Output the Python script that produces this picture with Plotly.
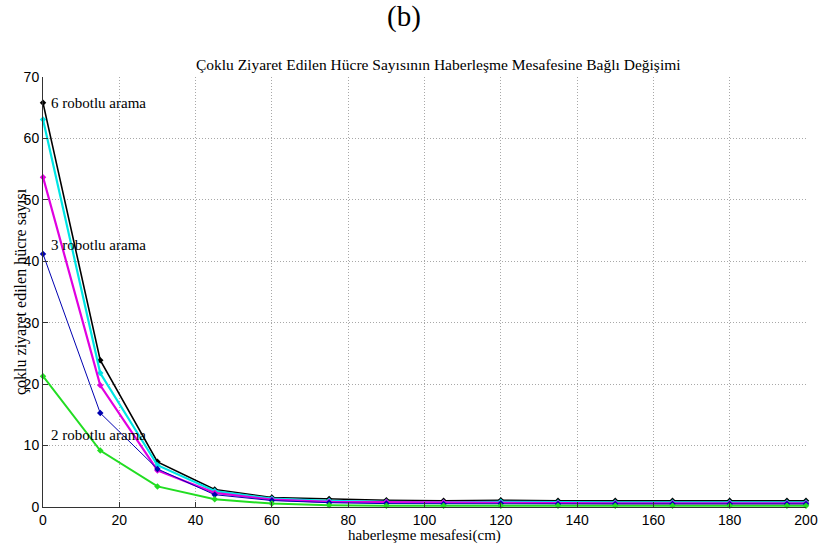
import plotly.graph_objects as go

# communication distance (cm)
distance = [0, 15, 30, 45, 60, 75, 90, 105, 120, 135, 150, 165, 180, 195, 200]

# multiply-visited cell counts per robot team size
robots_6 = [65.8, 23.9, 7.35, 2.85, 1.55, 1.3, 1.1, 1.0, 1.1, 1.0, 1.0, 1.0, 1.0, 1.0, 1.0]
robots_5 = [63.1, 21.8, 6.8, 2.6, 1.35, 1.0, 0.85, 0.75, 0.85, 0.75, 0.75, 0.75, 0.75, 0.75, 0.75]
robots_4 = [53.7, 19.8, 5.95, 2.3, 1.2, 0.85, 0.8, 0.75, 0.6, 0.6, 0.6, 0.6, 0.6, 0.6, 0.6]
robots_3 = [41.2, 15.3, 6.2, 2.0, 1.05, 0.7, 0.55, 0.5, 0.55, 0.5, 0.5, 0.5, 0.5, 0.5, 0.5]
robots_2 = [21.3, 9.2, 3.35, 1.25, 0.55, 0.3, 0.2, 0.2, 0.2, 0.2, 0.2, 0.2, 0.2, 0.2, 0.2]

series = [
    ("6 robot", robots_6, "#000000", 1.6),
    ("5 robot", robots_5, "#00e5e5", 2.2),
    ("4 robot", robots_4, "#e000e0", 2.2),
    ("3 robot", robots_3, "#0000b0", 1.0),
    ("2 robot", robots_2, "#22dd22", 2.0),
]

fig = go.Figure()
for name, vals, color, width in series:
    fig.add_trace(go.Scatter(
        x=distance, y=vals, mode="lines+markers", name=name,
        line=dict(color=color, width=width),
        marker=dict(symbol="diamond", size=5, color=color),
        cliponaxis=False,
    ))

serif = "Liberation Serif"
labels = [
    ("6 robotlu arama", robots_6[0]),
    ("3 robotlu arama", 42.7),
    ("2 robotlu arama", 11.8),
]
for text, yv in labels:
    fig.add_annotation(x=1.6, y=yv, text=text, showarrow=False, xanchor="left",
                       yanchor="middle", font=dict(family=serif, size=15, color="black"))

# panel letter above the title
fig.add_annotation(x=0.473, y=1.0, xref="paper", yref="paper", yshift=61,
                   text="(b)", showarrow=False, yanchor="middle",
                   font=dict(family=serif, size=29, color="black"))

# axis titles drawn as annotations so they can sit close to the tick labels
fig.add_annotation(x=0, y=0.5, xref="paper", yref="paper", xshift=-22,
                   text="çoklu ziyaret edilen hücre sayısı", textangle=-90,
                   showarrow=False, xanchor="center", yanchor="middle",
                   font=dict(family=serif, size=16, color="black"))
fig.add_annotation(x=0.5, y=0, xref="paper", yref="paper", yshift=-28,
                   text="haberleşme mesafesi(cm)",
                   showarrow=False, xanchor="center", yanchor="middle",
                   font=dict(family=serif, size=15, color="black"))

fig.update_layout(
    width=820, height=551,
    margin=dict(l=43, r=14, t=77, b=44),
    paper_bgcolor="white", plot_bgcolor="white",
    showlegend=False,
    title=dict(text="Çoklu Ziyaret Edilen Hücre Sayısının Haberleşme Mesafesine Bağlı Değişimi",
               xref="paper", x=0.518, xanchor="center", y=1 - 65 / 551, yanchor="middle",
               font=dict(family=serif, size=15.5, color="black")),
)

axis_common = dict(
    showgrid=True, gridcolor="#a8a8a8", griddash="1px,2px", gridwidth=1,
    showline=True, linecolor="#333333", linewidth=1,
    ticks="inside", ticklen=5, tickcolor="#333333",
    tickfont=dict(family="Liberation Sans", size=14, color="black"),
    zeroline=False, mirror=False, automargin=False,
)
fig.update_xaxes(range=[0, 200], dtick=20, **axis_common)
fig.update_yaxes(range=[0, 70], dtick=10, **axis_common)

fig.write_html("out.html")
